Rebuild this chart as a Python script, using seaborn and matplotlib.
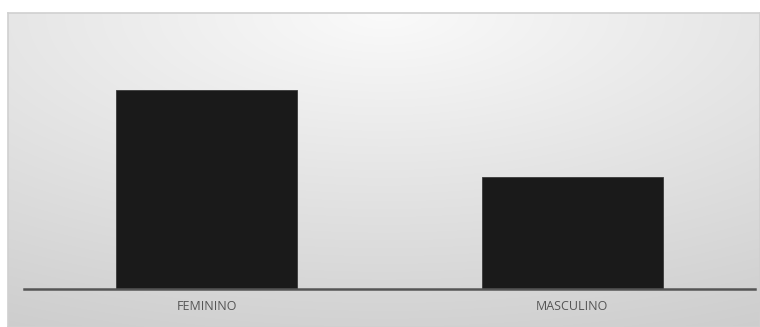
import numpy as np
import pandas as pd
import matplotlib
matplotlib.use("Agg")
import matplotlib.pyplot as plt
import seaborn as sns

categories = ["FEMININO", "MASCULINO"]
values = [64, 36]

sns.set_theme(style="white")
plt.rcParams['font.family'] = ['Open Sans', 'DejaVu Sans']

W, H = 760, 327
fig = plt.figure(figsize=(W / 100, H / 100), dpi=100)
fig.patch.set_facecolor("white")

# background panel with radial gradient
px0, py0 = 8, 13
bg = fig.add_axes([px0 / W, 0, (W - px0) / W, (H - py0) / H])
gw, gh = W - px0, H - py0
xx, yy = np.meshgrid(np.linspace(0, 1, gw), np.linspace(0, 1, gh))
d = np.sqrt(((xx - 0.5)) ** 2 + (yy) ** 2)
g = np.clip(250 - 40 * d, 0, 255) / 255.0
bg.imshow(np.dstack([g, g, g]), aspect="auto", extent=[0, 1, 0, 1], origin="upper")
bg.set_xticks([]); bg.set_yticks([])
for s in bg.spines.values():
    s.set_color("#d0d0d0"); s.set_linewidth(1.2)
bg.set_zorder(0)

df = pd.DataFrame({"cat": categories, "val": values})
ax0, ax1 = 24, 755
base = 289
ymax = 80
hpx = 199 * ymax / values[0]
ax = fig.add_axes([ax0 / W, (H - base) / H, (ax1 - ax0) / W, hpx / H])
ax.set_zorder(1)
ax.patch.set_visible(False)
sns.barplot(data=df, x="cat", y="val", ax=ax, color="#1a1a1a", width=0.495,
            edgecolor="#3a3a3a", linewidth=0.6, saturation=1)
ax.set_xlim(-0.5, 1.5)
ax.set_ylim(0, ymax)
ax.set_xlabel(""); ax.set_ylabel("")
ax.set_yticks([])
ax.tick_params(axis="x", length=0, pad=8, labelsize=9, labelcolor="#555555")
for k in ["top", "right", "left"]:
    ax.spines[k].set_visible(False)
ax.spines["bottom"].set_color("#555555")
ax.spines["bottom"].set_linewidth(1.8)

fig.savefig("out.png", dpi=100, facecolor="white")
